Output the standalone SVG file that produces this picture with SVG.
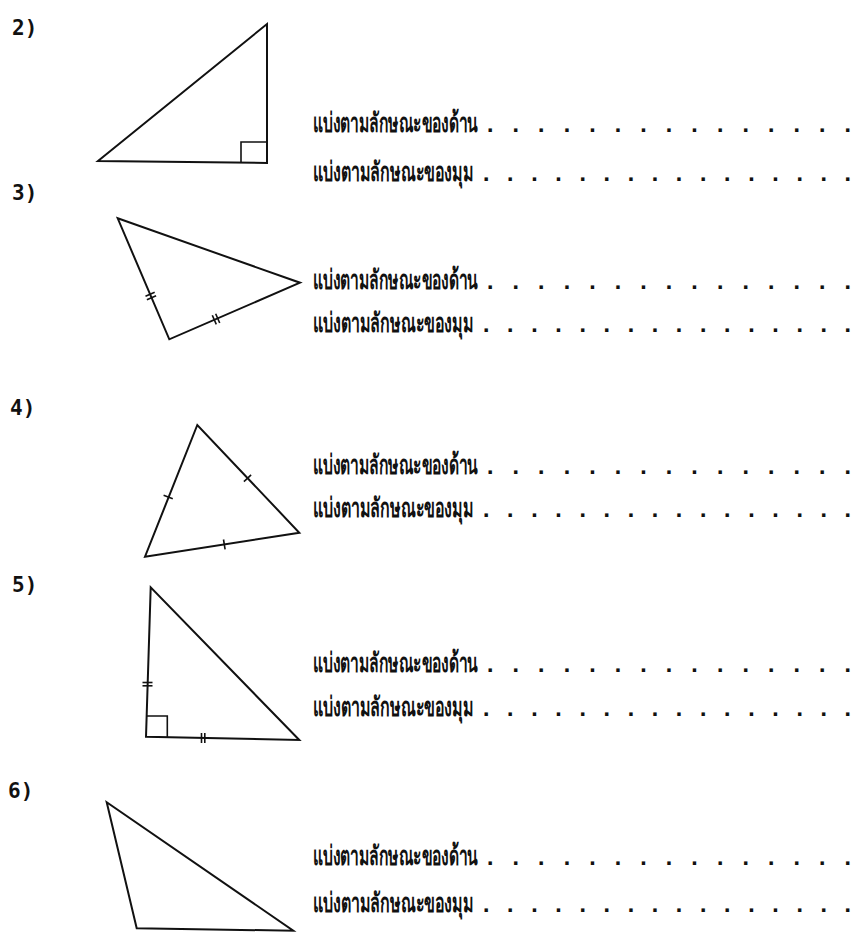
<svg xmlns="http://www.w3.org/2000/svg" width="858" height="933" viewBox="0 0 858 933">
<style>
.num{font-family:"DejaVu Sans Mono","Liberation Mono",monospace;font-size:21px;font-weight:bold;fill:#111}
.th{font-family:"Noto Sans","DejaVu Sans",sans-serif;font-size:27px;font-weight:bold;fill:#111}
.dots{font-family:"Liberation Mono",monospace;font-size:24px;font-weight:bold;fill:#111}
.tri{fill:none;stroke:#111;stroke-width:2;stroke-linejoin:miter}
.tick{fill:none;stroke:#111;stroke-width:1.6}
</style>
<rect width="858" height="933" fill="#fff"/>

<g id="q2">
<text class="num" x="12" y="35">2)</text>
<polygon class="tri" points="98,161 267,24 267,163"/>
<polyline class="tick" points="241,163 241,142 267,142"/>
<text class="th" transform="translate(313,132) scale(0.6,1)" textLength="275" lengthAdjust="spacingAndGlyphs">แบ่งตามลักษณะของด้าน</text>
<text class="dots" x="483" y="132" textLength="372" lengthAdjust="spacing">...............</text>
<text class="th" transform="translate(313,181) scale(0.6,1)" textLength="268" lengthAdjust="spacingAndGlyphs">แบ่งตามลักษณะของมุม</text>
<text class="dots" x="479" y="181" textLength="376" lengthAdjust="spacing">................</text>
</g>

<g id="q3">
<text class="num" x="12" y="200">3)</text>
<polygon class="tri" points="117.7,218.3 300,282.7 169.3,339.3"/>
<line class="tick" x1="145.5" y1="296.3" x2="154.7" y2="292.3"/>
<line class="tick" x1="146.9" y1="299.7" x2="156.1" y2="295.7"/>
<line class="tick" x1="212.3" y1="315.2" x2="216.3" y2="324.4"/>
<line class="tick" x1="215.7" y1="313.8" x2="219.7" y2="323"/>
<text class="th" transform="translate(313,289) scale(0.6,1)" textLength="275" lengthAdjust="spacingAndGlyphs">แบ่งตามลักษณะของด้าน</text>
<text class="dots" x="483" y="289" textLength="372" lengthAdjust="spacing">...............</text>
<text class="th" transform="translate(313,332) scale(0.6,1)" textLength="268" lengthAdjust="spacingAndGlyphs">แบ่งตามลักษณะของมุม</text>
<text class="dots" x="479" y="332" textLength="376" lengthAdjust="spacing">................</text>
</g>

<g id="q4">
<text class="num" x="10" y="415">4)</text>
<polygon class="tri" points="197.3,425 145,556.7 299.3,532.7"/>
<line class="tick" x1="163.6" y1="495.2" x2="172.8" y2="498.8"/>
<line class="tick" x1="243.9" y1="481.7" x2="251.1" y2="474.9"/>
<line class="tick" x1="223.5" y1="539.5" x2="225.1" y2="549.3"/>
<text class="th" transform="translate(313,474) scale(0.6,1)" textLength="275" lengthAdjust="spacingAndGlyphs">แบ่งตามลักษณะของด้าน</text>
<text class="dots" x="483" y="474" textLength="372" lengthAdjust="spacing">...............</text>
<text class="th" transform="translate(313,517) scale(0.6,1)" textLength="268" lengthAdjust="spacingAndGlyphs">แบ่งตามลักษณะของมุม</text>
<text class="dots" x="479" y="517" textLength="376" lengthAdjust="spacing">................</text>
</g>

<g id="q5">
<text class="num" x="12" y="592">5)</text>
<polygon class="tri" points="150.7,587.3 146,736.7 299.3,740"/>
<polyline class="tick" points="146,716 167.3,716 167.3,737"/>
<line class="tick" x1="142.5" y1="682.5" x2="152.5" y2="682.5"/>
<line class="tick" x1="142.5" y1="685.8" x2="152.5" y2="685.8"/>
<line class="tick" x1="201.5" y1="733" x2="201.5" y2="743"/>
<line class="tick" x1="204.8" y1="733" x2="204.8" y2="743"/>
<text class="th" transform="translate(313,672) scale(0.6,1)" textLength="275" lengthAdjust="spacingAndGlyphs">แบ่งตามลักษณะของด้าน</text>
<text class="dots" x="483" y="672" textLength="372" lengthAdjust="spacing">...............</text>
<text class="th" transform="translate(313,716) scale(0.6,1)" textLength="268" lengthAdjust="spacingAndGlyphs">แบ่งตามลักษณะของมุม</text>
<text class="dots" x="479" y="716" textLength="376" lengthAdjust="spacing">................</text>
</g>

<g id="q6">
<text class="num" x="8" y="798">6)</text>
<polygon class="tri" points="106.7,802.3 136.7,928.3 293.3,930.7"/>
<text class="th" transform="translate(313,865) scale(0.6,1)" textLength="275" lengthAdjust="spacingAndGlyphs">แบ่งตามลักษณะของด้าน</text>
<text class="dots" x="483" y="865" textLength="372" lengthAdjust="spacing">...............</text>
<text class="th" transform="translate(313,912) scale(0.6,1)" textLength="268" lengthAdjust="spacingAndGlyphs">แบ่งตามลักษณะของมุม</text>
<text class="dots" x="479" y="912" textLength="376" lengthAdjust="spacing">................</text>
</g>
</svg>
